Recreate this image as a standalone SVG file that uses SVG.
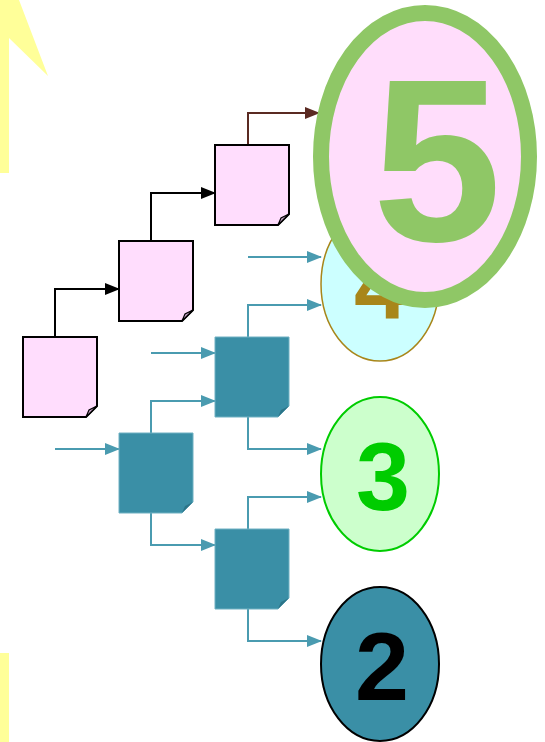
<svg xmlns="http://www.w3.org/2000/svg" width="545" height="742" viewBox="0 0 545 742">
<style>
.doc{fill:#ffddfd;stroke:#000;stroke-width:2}
.docf{fill:#c9a6c9;stroke:#000;stroke-width:1.2}
.tdoc{fill:#3a8fa6;stroke:#6fb0c2;stroke-width:1}
.tdocf{fill:#2c7488;stroke:none}
.k{fill:none;stroke:#000;stroke-width:2}
.br{fill:none;stroke:#5a2a22;stroke-width:2}
.t{fill:none;stroke:#4a9bb0;stroke-width:2}
.num{font-family:"Liberation Sans",Arial,sans-serif;font-weight:bold;text-anchor:middle}
</style>
<defs>
<marker id="ak" markerWidth="15" markerHeight="12" refX="14" refY="6" orient="auto" markerUnits="userSpaceOnUse"><path d="M0,0 L15,6 L0,12 z" fill="#000"/></marker>
<marker id="ab" markerWidth="15" markerHeight="12" refX="14" refY="6" orient="auto" markerUnits="userSpaceOnUse"><path d="M0,0 L15,6 L0,12 z" fill="#5a2a22"/></marker>
<marker id="at" markerWidth="15" markerHeight="12" refX="14" refY="6" orient="auto" markerUnits="userSpaceOnUse"><path d="M0,0 L15,6 L0,12 z" fill="#4a9bb0"/></marker>
</defs>
<g id="yellow">
<polygon points="0,0 19,0 48,76 9,38 9,173 0,173" fill="#ffff99"/>
<rect x="0" y="653" width="9" height="89" fill="#ffff99"/>
</g>
<g id="connectors">
<path class="k" d="M55,337 V289 H119" marker-end="url(#ak)"/>
<path class="k" d="M151,241 V193 H215" marker-end="url(#ak)"/>
<path class="br" d="M248,145 V113 H319" marker-end="url(#ab)"/>
<path class="t" d="M55,449 H119" marker-end="url(#at)"/>
<path class="t" d="M151,433 V401 H215" marker-end="url(#at)"/>
<path class="t" d="M151,513 V545 H215" marker-end="url(#at)"/>
<path class="t" d="M151,353 H215" marker-end="url(#at)"/>
<path class="t" d="M248,257 H321" marker-end="url(#at)"/>
<path class="t" d="M248,337 V305 H321" marker-end="url(#at)"/>
<path class="t" d="M248,417 V449 H321" marker-end="url(#at)"/>
<path class="t" d="M248,529 V497 H321" marker-end="url(#at)"/>
<path class="t" d="M248,609 V641 H321" marker-end="url(#at)"/>
</g>
<g id="doc1"><path class="doc" d="M23,337 h74 v69 l-11,11 h-63 z"/><path class="docf" d="M86,417 l3,-7 l8,-4 z"/></g>
<g id="doc2"><path class="doc" d="M119,241 h74 v69 l-11,11 h-63 z"/><path class="docf" d="M182,321 l3,-7 l8,-4 z"/></g>
<g id="doc3"><path class="doc" d="M215,145 h74 v69 l-11,11 h-63 z"/><path class="docf" d="M278,225 l3,-7 l8,-4 z"/></g>
<g id="tdoc1"><path class="tdoc" d="M119,433 h74 v69 l-11,11 h-63 z"/><path class="tdocf" d="M182,513 l3,-7 l8,-4 z"/></g>
<g id="tdoc2"><path class="tdoc" d="M215,337 h74 v69 l-11,11 h-63 z"/><path class="tdocf" d="M278,417 l3,-7 l8,-4 z"/></g>
<g id="tdoc3"><path class="tdoc" d="M215,529 h74 v69 l-11,11 h-63 z"/><path class="tdocf" d="M278,609 l3,-7 l8,-4 z"/></g>
<g id="c2"><ellipse cx="380" cy="664" rx="59" ry="77" fill="#3a8fa6" stroke="#000" stroke-width="2"/><text class="num" x="382" y="700" font-size="97" fill="#000">2</text></g>
<g id="c3"><ellipse cx="380" cy="474" rx="59" ry="77" fill="#ccffcc" stroke="#00cc00" stroke-width="2"/><text class="num" x="383" y="510" font-size="97" fill="#00cc00">3</text></g>
<g id="c4"><ellipse cx="380" cy="284" rx="59" ry="77" fill="#ccffff" stroke="#a8861a" stroke-width="1.5"/><text class="num" x="381" y="319" font-size="97" fill="#a8861a">4</text></g>
<g id="c5"><ellipse cx="425" cy="156.5" rx="104" ry="143.5" fill="#ffddfb" stroke="#8fc766" stroke-width="16"/><text class="num" x="437" y="241" font-size="232" fill="#8fc766">5</text></g>
</svg>
